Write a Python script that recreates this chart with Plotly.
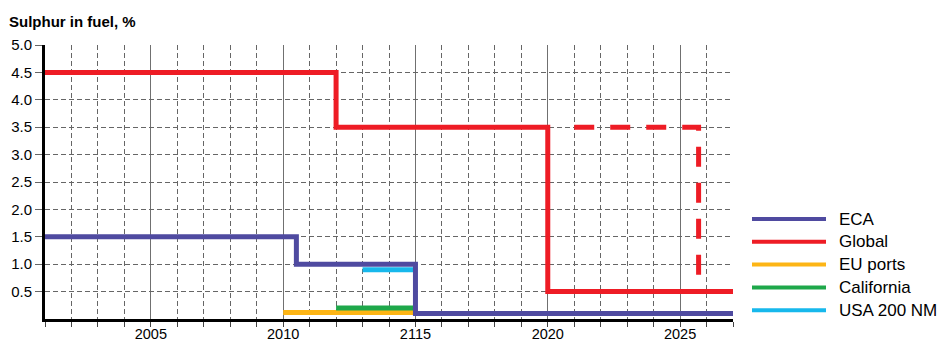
import plotly.graph_objects as go

# ---- data ----
series_names = ["ECA", "Global", "EU ports", "California", "USA 200 NM"]
series_colors = ["#4f4aa0", "#ee1c25", "#fdb515", "#1ea84a", "#17b8ec"]

eca_years = [2001, 2010.5, 2015, 2027]
eca_sulphur = [1.5, 1.0, 0.1, 0.1]

global_years = [2001, 2012, 2020, 2027]
global_sulphur = [4.5, 3.5, 0.5, 0.5]

global_alt_years = [2021, 2025.7, 2025.7]
global_alt_sulphur = [3.5, 3.5, 0.5]

eu_years = [2010, 2015]
eu_sulphur = [0.12, 0.12]

cal_years = [2012, 2015]
cal_sulphur = [0.2, 0.2]

usa_years = [2013, 2015]
usa_sulphur = [0.9, 0.9]

x_tickvals = [2005, 2010, 2015, 2020, 2025]
x_ticktext = ["2005", "2010", "2115", "2020", "2025"]
y_tickvals = [0.5, 1.0, 1.5, 2.0, 2.5, 3.0, 3.5, 4.0, 4.5, 5.0]
y_ticktext = ["0.5", "1.0", "1.5", "2.0", "2.5", "3.0", "3.5", "4.0", "4.5", "5.0"]

# ---- layout geometry (screen pixels; page body has an 8px margin) ----
OFF = 8
SCR_W, SCR_H = 946, 344
W, H = SCR_W - OFF, SCR_H - OFF
PL, PR, PT, PB = 45, 733, 45, 319   # plot area on screen
ML, MT = PL - OFF, PT - OFF
MR, MB = W - (PR - OFF), H - (PB - OFF)
PW, PH = PR - PL, PB - PT

def px_to_paper_x(px):
    return (px - PL) / PW

def px_to_paper_y(py):
    return (PB - py) / PH

FONT = "Liberation Sans, Arial, Helvetica, sans-serif"
GRID_DASH = "5px,3px"

fig = go.Figure()

def add_line(xs, ys, color, dash="solid", width=5):
    fig.add_trace(go.Scatter(x=xs, y=ys, mode="lines", line_shape="hv",
                             line=dict(color=color, width=width, dash=dash),
                             showlegend=False, hoverinfo="skip"))

add_line(eu_years, eu_sulphur, series_colors[2])
add_line(cal_years, cal_sulphur, series_colors[3])
add_line(usa_years, usa_sulphur, series_colors[4])
add_line(global_years, global_sulphur, series_colors[1])
add_line(global_alt_years, global_alt_sulphur, series_colors[1], dash="20px,16px")
add_line(eca_years, eca_sulphur, series_colors[0])

fig.update_xaxes(
    range=[2001, 2027], automargin=False,
    tickvals=x_tickvals, ticktext=x_ticktext,
    ticks="outside", ticklen=5, tickcolor="#444", tickwidth=1,
    ticklabelstandoff=-5,
    showgrid=True, gridcolor="#707070", gridwidth=1.3,
    minor=dict(dtick=1, tick0=2001, showgrid=True, gridcolor="#666666",
               griddash=GRID_DASH, gridwidth=1.2, ticks="outside", ticklen=5,
               tickcolor="#444"),
    showline=True, linecolor="black", linewidth=3,
    zeroline=False,
    tickfont=dict(family=FONT, size=14.5, color="black"),
)
fig.update_yaxes(
    range=[0, 5], automargin=False,
    tickvals=y_tickvals, ticktext=y_ticktext,
    ticks="outside", ticklen=7, tickcolor="#666", tickwidth=1,
    showgrid=True, gridcolor="#666666", griddash=GRID_DASH, gridwidth=1.2,
    showline=True, linecolor="black", linewidth=3,
    zeroline=False,
    tickfont=dict(family=FONT, size=15, color="black"),
)

annotations = [
    dict(text="<b>Sulphur in fuel, %</b>", xref="paper", yref="paper",
         x=px_to_paper_x(7), y=px_to_paper_y(21), xanchor="left", yanchor="middle",
         showarrow=False, font=dict(family=FONT, size=15, color="black")),
]
shapes = []
leg_y0 = 219
leg_dy = 22.8
for i, (name, col) in enumerate(zip(series_names, series_colors)):
    yy = px_to_paper_y(leg_y0 + i * leg_dy)
    shapes.append(dict(type="line", xref="paper", yref="paper",
                       x0=px_to_paper_x(752), x1=px_to_paper_x(826), y0=yy, y1=yy,
                       line=dict(color=col, width=4)))
    annotations.append(dict(text=name, xref="paper", yref="paper",
                            x=px_to_paper_x(837), y=yy, xanchor="left", yanchor="middle",
                            showarrow=False,
                            font=dict(family=FONT, size=17, color="black")))

fig.update_layout(
    template="none",
    width=W, height=H,
    margin=dict(l=ML, r=MR, t=MT, b=MB, pad=0),
    paper_bgcolor="white", plot_bgcolor="white",
    showlegend=False,
    annotations=annotations, shapes=shapes,
)

fig.write_html("out.html")
